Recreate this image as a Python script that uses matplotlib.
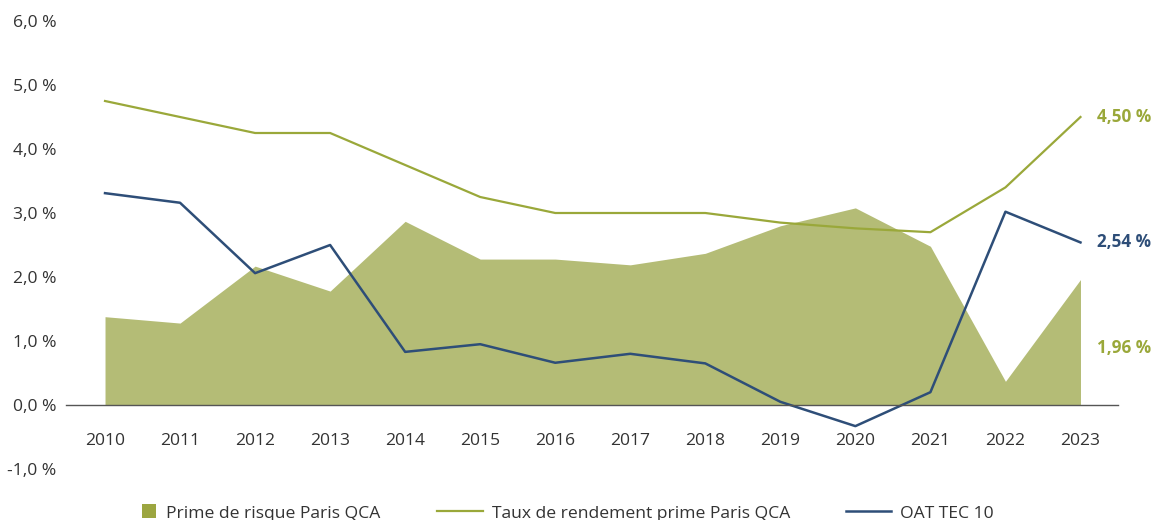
import matplotlib.pyplot as plt
from matplotlib.patches import Patch
from matplotlib.lines import Line2D

plt.rcParams['font.family'] = ['Open Sans', 'DejaVu Sans']

# -------------------- Data --------------------
years = ['2010', '2011', '2012', '2013', '2014', '2015', '2016',
         '2017', '2018', '2019', '2020', '2021', '2022', '2023']
prime_risque = [1.38, 1.28, 2.17, 1.78, 2.87, 2.28, 2.28,
                2.19, 2.37, 2.80, 3.08, 2.48, 0.37, 1.96]
taux_rendement = [4.75, 4.50, 4.25, 4.25, 3.75, 3.25, 3.00,
                  3.00, 3.00, 2.85, 2.76, 2.70, 3.40, 4.50]
oat_tec10 = [3.31, 3.16, 2.06, 2.50, 0.83, 0.95, 0.66,
             0.80, 0.65, 0.05, -0.33, 0.20, 3.02, 2.54]

y_ticks = [-1, 0, 1, 2, 3, 4, 5, 6]

# -------------------- Style --------------------
c_fill = '#b4bc76'
c_patch = '#9ca640'
c_olive = '#9aa83a'
c_blue = '#2e4e78'
c_text = '#333333'
fs = 12.6

W, H = 1153, 520
fig = plt.figure(figsize=(W / 100, H / 100), dpi=100)
ax = fig.add_axes([66 / W, 51 / H, (1118 - 66) / W, (469 - 21) / H])

x = list(range(len(years)))
ax.fill_between(x, 0, prime_risque, color=c_fill, lw=0)
ax.plot(x, taux_rendement, color=c_olive, lw=1.6)
ax.plot(x, oat_tec10, color=c_blue, lw=1.8)

ax.set_xlim(-0.52, 13.5)
ax.set_ylim(-1, 6)

for s in ['top', 'right', 'left']:
    ax.spines[s].set_visible(False)
ax.spines['bottom'].set_position(('data', 0))
ax.spines['bottom'].set_color('#555555')
ax.spines['bottom'].set_linewidth(1.0)

ax.set_xticks(x)
ax.set_xticklabels(years)
ax.tick_params(axis='x', length=0, pad=20, labelsize=fs, labelcolor=c_text)
ax.set_yticks(y_ticks)
ax.set_yticklabels([f'{v:.1f} %'.replace('.', ',') for v in y_ticks])
ax.tick_params(axis='y', length=0, pad=7, labelsize=fs, labelcolor=c_text)

# end labels
ax.text(13.22, taux_rendement[-1], '4,50 %', color=c_olive, fontsize=12.3,
        fontweight='bold', va='center', ha='left')
ax.text(13.22, oat_tec10[-1], '2,54 %', color=c_blue, fontsize=12.3,
        fontweight='bold', va='center', ha='left')
ax.text(13.22, 0.89, '1,96 %', color=c_olive, fontsize=12.3,
        fontweight='bold', va='center', ha='left')

# -------------------- Legend --------------------
entries = [
    (Patch(facecolor=c_patch, edgecolor='none'), 'Prime de risque Paris QCA', 142, 0.8, 0.55),
    (Line2D([], [], color=c_olive, lw=1.6), 'Taux de rendement prime Paris QCA', 437, 2.63, 0.52),
    (Line2D([], [], color=c_blue, lw=1.8), 'OAT TEC 10', 846, 2.57, 0.52),
]
for h, lab, xpix, hl, tp in entries:
    leg = fig.legend([h], [lab], loc='center left', bbox_to_anchor=(xpix / W, 1 - 513 / H),
                     frameon=False, fontsize=fs, handlelength=hl, handleheight=0.85,
                     handletextpad=tp, borderpad=0, borderaxespad=0)
    for t in leg.get_texts():
        t.set_color(c_text)

fig.savefig('out.png', dpi=100)
